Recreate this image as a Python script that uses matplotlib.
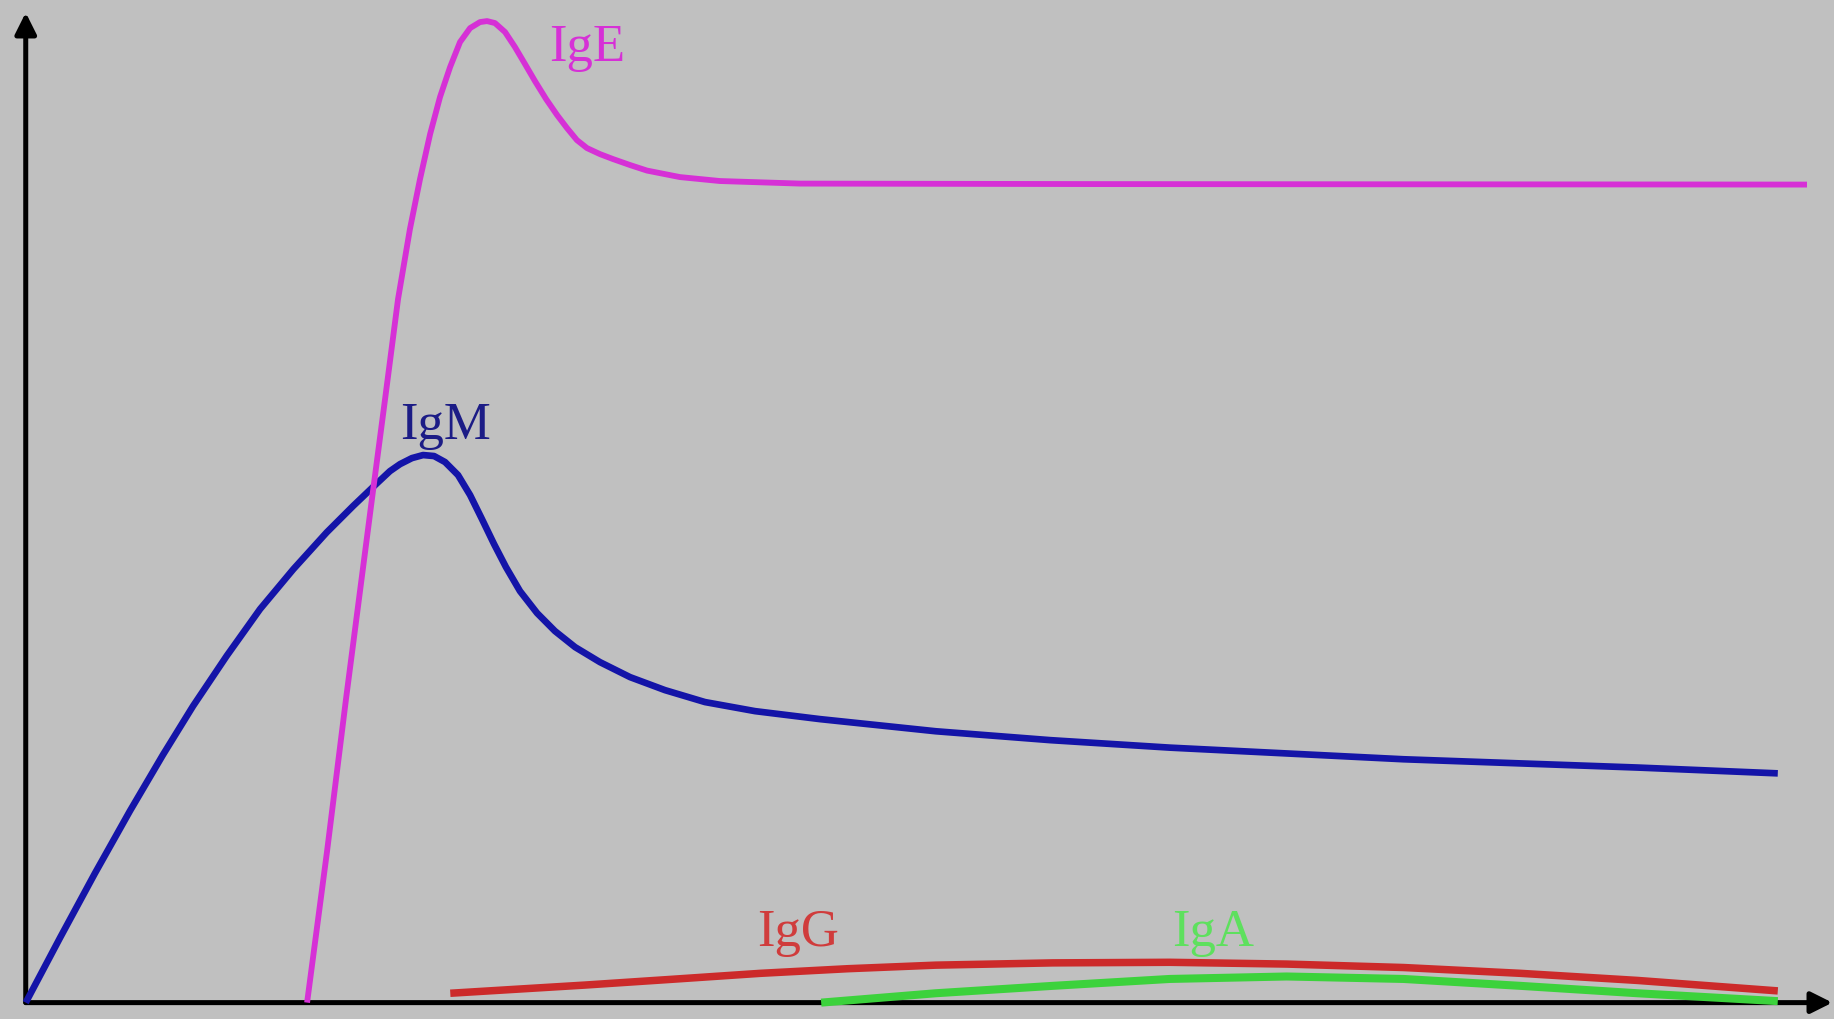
import matplotlib
matplotlib.use("Agg")
import matplotlib.pyplot as plt

# antibody levels over time (arbitrary units)
igm_t = [0, 1.903, 3.846, 5.789, 7.621, 9.287, 11.16, 13.01, 14.86, 16.71, 18.19, 19.39,
         20.22, 20.78, 21.44, 22.06, 22.67, 23.28, 24.00, 24.67, 25.33, 26.00, 26.66,
         27.44, 28.39, 29.38, 30.50, 31.88, 33.55, 35.49, 37.71, 40.49, 44.10, 50.52,
         56.87, 63.51, 76.49, 89.48, 97.27]
igm_v = [0, 6.57, 13.13, 19.45, 25.14, 30.07, 35.17, 39.91, 43.96, 47.69, 50.39, 52.48,
         53.90, 54.61, 55.22, 55.53, 55.43, 54.82, 53.50, 51.47, 49.03, 46.50, 44.17,
         41.73, 39.50, 37.68, 36.05, 34.53, 33.01, 31.69, 30.48, 29.56, 28.75, 27.52,
         26.62, 25.86, 24.68, 23.84, 23.25]

ige_t = [15.62, 16.73, 17.78, 18.50, 19.22, 19.95, 20.67, 21.33, 21.89, 22.45, 23.00,
         23.56, 24.11, 24.67, 25.22, 25.61, 26.05, 26.61, 27.16, 27.72, 28.27, 28.89,
         29.50, 30.05, 30.60, 31.16, 31.88, 32.60, 33.55, 34.49, 36.32, 38.54, 42.99,
         59.64, 98.89]
ige_v = [0, 15.37, 30.78, 40.92, 51.06, 61.21, 71.35, 78.45, 83.52, 88.08, 91.84,
         94.88, 97.41, 98.83, 99.44, 99.54, 99.34, 98.43, 96.91, 95.18, 93.46, 91.63,
         90.01, 88.69, 87.47, 86.66, 86.05, 85.55, 84.94, 84.38, 83.72, 83.32, 83.06,
         83.01, 82.96]

igg_t = [23.57, 27.79, 31.04, 35.91, 40.78, 45.65, 50.52, 57.01, 63.51, 70.0, 76.49,
         82.99, 89.48, 97.27]
igg_v = [0.95, 1.42, 1.78, 2.37, 2.97, 3.44, 3.80, 4.03, 4.09, 3.91, 3.56,
         2.97, 2.25, 1.19]

iga_t = [44.16, 50.52, 57.01, 63.51, 70.0, 76.49, 82.99, 89.48, 97.27]
iga_v = [0, 0.95, 1.70, 2.40, 2.65, 2.40, 1.70, 0.95, 0.15]

labels = ["IgE", "IgM", "IgG", "IgA"]
label_pos = [(31.17, 96.9), (23.3, 58.6), (42.86, 7.2), (65.91, 7.2)]

bg = "#c0c0c0"
c_ige = "#d630d6"
c_igm = "#1414a8"
c_igg = "#cc2a2a"
c_iga = "#3cd23c"
label_colors = [c_ige, "#1c1c86", "#d03c3c", "#5ee05e"]

fig = plt.figure(figsize=(18.34, 10.20), dpi=100, facecolor=bg)
ax = fig.add_axes([0, 0, 1, 1])
ax.set_facecolor(bg)
ax.set_xlim(-1.4286, 100.39)
ax.set_ylim(-1.661, 101.78)
ax.axis("off")

# axes with arrow heads
arrow = dict(arrowstyle="-|>", lw=3.6, color="black", mutation_scale=32,
             shrinkA=0, shrinkB=0)
ax.annotate("", xy=(0, 100.4), xytext=(0, 0), arrowprops=arrow, zorder=1)
ax.annotate("", xy=(100.3, 0), xytext=(0, 0), arrowprops=arrow, zorder=1)

kw = dict(solid_capstyle="butt", solid_joinstyle="round", zorder=3)
ax.plot(igm_t, igm_v, color=c_igm, lw=4.8, **kw)
ax.plot(ige_t, ige_v, color=c_ige, lw=4.2, **kw)
ax.plot(igg_t, igg_v, color=c_igg, lw=5.4, **kw)
ax.plot(iga_t, iga_v, color=c_iga, lw=5.8, **kw)

for lab, (lx, ly), col in zip(labels, label_pos, label_colors):
    ax.text(lx, ly, lab, color=col, fontsize=38, family="Liberation Serif",
            ha="center", va="center", zorder=4)

plt.savefig("out.png", dpi=100, facecolor=bg)
